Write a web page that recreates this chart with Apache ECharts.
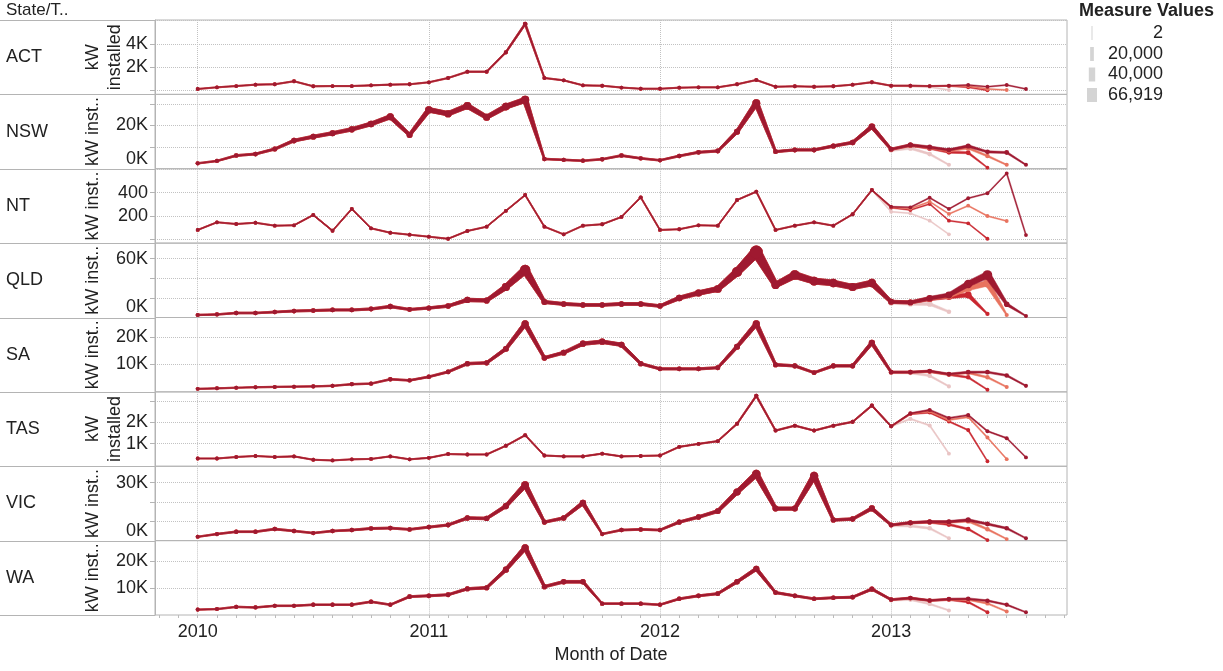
<!DOCTYPE html>
<html>
<head>
<meta charset="utf-8">
<script src="https://cdn.jsdelivr.net/npm/echarts@6/dist/echarts.min.js"></script>
<style>html,body{margin:0;padding:0;background:#fff}#chart{width:1223px;height:671px}</style>
</head>
<body>
<div id="chart"></div>
<script>
// ---------- data ----------
const states = ['ACT', 'NSW', 'NT', 'QLD', 'SA', 'TAS', 'VIC', 'WA'];
const axisTitles = ['kW\ninstalled', 'kW inst..', 'kW inst..', 'kW inst..', 'kW inst..', 'kW\ninstalled', 'kW inst..', 'kW inst..'];
const yearTicks = [0, 12, 24, 36];            // month index (0 = Jan 2010)
const yearLabels = ['2010', '2011', '2012', '2013'];

// monthly kW installed, Jan 2010 .. Dec 2012 (month index 0..35)
const actHistory = [140,280,390,510,540,800,370,390,390,450,510,540,710,1080,1620,1620,3290,5720,1080,880,450,420,260,160,160,250,280,280,540,910,330,370,330,370,510,720];
const nswHistory = [2500,3600,6100,6800,9100,13000,14800,16400,18200,20700,24000,15600,27200,25400,29000,23800,28700,31800,4500,4100,3700,4400,6100,4800,3900,5900,7600,8200,17100,30300,7900,8700,8700,10500,12100,19400];
const ntHistory  = [78,144,129,140,115,118,207,71,259,92,54,37,20,2,69,106,243,379,106,40,115,127,190,359,78,84,118,115,336,408,78,115,144,115,213,422];
const qldHistory = [2600,3100,4600,4600,5600,6600,7100,7700,7700,8700,11200,8200,9700,11700,17900,17400,31100,48500,15800,13800,12800,12800,13800,13800,11700,19900,25000,29100,46400,66919,33200,43400,37200,35200,31100,35200];
const saHistory  = [1100,1300,1500,1700,1800,1900,2000,2200,2800,3000,4600,4200,5500,7300,10300,10600,15700,24800,12400,14300,17600,18300,17200,10300,8400,8400,8400,8800,16500,24800,9900,9500,7000,9500,9500,17900];
const tasHistory = [300,300,370,420,370,400,240,210,260,280,400,260,330,510,490,490,900,1400,440,400,400,530,400,420,440,850,990,1120,1940,3260,1620,1850,1620,1850,2030,2800];
const vicHistory = [2000,3400,4600,4600,6000,5000,3900,5000,5500,6300,6500,5800,7000,8100,11700,11500,17900,28800,9600,11700,19500,3400,5500,5800,5500,9600,12200,15300,25200,34500,16600,16600,33500,10700,11200,16700];
const waHistory  = [2000,2200,3000,2800,3400,3400,3800,3800,3800,4900,3800,6800,7100,7500,9700,10100,16800,24900,10500,12300,12300,4200,4200,4200,3800,6000,7100,7900,12300,17100,8300,7100,6000,6400,6600,9600];

// 2013 values (from Jan 2013) as reported in successive snapshots, per state in order above
const tailsApr2013 = [
  [400,350,300,50], [8500,9500,6800,1800], [235,221,158,40], [15000,14000,13800,5900],
  [7000,6900,5900,2000], [1820,2170,1860,530], [7800,7600,6400,1200], [5500,5700,4100,1700]
];
const tailsJun2013 = [
  [420,420,380,400,280,20], [9000,10800,9500,7600,7400,500], [270,250,302,158,135,2], [16000,15400,19000,21200,23000,3600],
  [7200,7200,7400,6300,5300,800], [1820,2400,2470,2050,1640,170], [8100,9200,9600,8400,6000,300], [5700,6200,5300,5700,4800,1000]
];
const tailsJul2013 = [
  [420,420,390,410,390,140,50], [9000,10900,9800,8300,9600,5900,1800], [275,262,322,216,287,198,155], [16000,15400,19400,22000,30000,35000,2600],
  [7200,7200,7500,6400,7000,5300,1800], [1820,2420,2530,2120,2260,1290,270], [8100,9300,9700,9600,10200,5900,800], [5700,6300,5400,5800,5700,4300,1300]
];
const tailsAug2013 = [
  [420,420,390,420,480,330,480,140], [9000,11000,10000,8700,10500,7800,7500,1800], [278,273,356,259,351,394,566,34], [16000,15400,19600,23000,34200,43400,13500,1500],
  [7200,7200,7600,6500,7200,7200,6000,2200], [1820,2430,2590,2210,2350,1590,1260,350], [8100,9300,9800,9800,10700,8600,6400,1200], [5700,6300,5400,5900,6000,5300,3800,1000]
];
const snapshotNames = ['Apr 2013', 'Jun 2013', 'Jul 2013', 'Aug 2013'];
const sizeLegendValues = [2, 20000, 40000, 66919];

// axis tick positions / labels per panel
const yGridValues  = [[0,2000,4000,6000],[10000,20000,30000],[0,200,400,600],[20000,40000,60000],[10000,20000],[1000,2000,3000],[10000,20000,30000],[10000,20000]];
const yLabelValues = [[2000,4000],[0,20000],[200,400],[0,60000],[10000,20000],[1000,2000],[0,30000],[10000,20000]];
const yRanges = [[-324,6060],[0,34350],[-35.6,605.6],[0,75900],[0,27150],[-66,3446],[0,38540],[0,27550]];

// ---------- presentation ----------
const history = [actHistory, nswHistory, ntHistory, qldHistory, saHistory, tasHistory, vicHistory, waHistory];
const tails = [tailsApr2013, tailsJun2013, tailsJul2013, tailsAug2013];
const snapshotColors = ['#e9c4c4', '#c9262f', '#e8735f', '#9f1930'];
const FONT = 'Arial, "Liberation Sans", sans-serif';
const TXT = '#222';
const BORDER = '#b4b4b4';
const GRIDC = '#c2c2c2';
const plotLeft = 155, plotRight = 1067, plotTop = 20, plotBottom = 615;
const panelH = (plotBottom - plotTop) / states.length;
const xMin = -2.217, xMax = 45.13;
const monthTicks = Array.from({length: 48}, (_, i) => i - 2);

function sizeOf(v) { return 1 + 9 * Math.max(v, 0) / sizeLegendValues[3]; }

function renderItem(params, api) {
  const x0 = api.value(0), y0 = api.value(1);
  const p0 = api.coord([x0, y0]);
  const w0 = sizeOf(y0);
  const color = api.visual('color');
  const children = [];
  if (api.value(4) === 1) {
    const p1 = api.coord([api.value(2), api.value(3)]);
    const w1 = sizeOf(api.value(3));
    const dx = p1[0] - p0[0], dy = p1[1] - p0[1];
    const len = Math.hypot(dx, dy) || 1;
    const nx = -dy / len, ny = dx / len;
    children.push({
      type: 'polygon',
      shape: { points: [
        [p0[0] + nx * w0 / 2, p0[1] + ny * w0 / 2],
        [p1[0] + nx * w1 / 2, p1[1] + ny * w1 / 2],
        [p1[0] - nx * w1 / 2, p1[1] - ny * w1 / 2],
        [p0[0] - nx * w0 / 2, p0[1] - ny * w0 / 2]
      ]},
      style: { fill: color, stroke: color, lineWidth: 0.5 }
    });
  }
  children.push({ type: 'circle', shape: { cx: p0[0], cy: p0[1], r: (w0 + 2.8) / 2 }, style: { fill: color } });
  return { type: 'group', children };
}

function seriesPoints(k, s) {
  const vals = history[k].concat(tails[s][k]);
  return vals.map((v, i) => i < vals.length - 1 ? [i, v, i + 1, vals[i + 1], 1] : [i, v, i, v, 0]);
}

function tickText(k, v) {
  if (states[k] === 'NT') return String(v);
  const t = (v / 1000) + 'K';
  return v === 0 ? '{lift|' + t + '}' : t;
}

const grids = states.map((s, k) => ({
  left: plotLeft, width: plotRight - plotLeft, top: plotTop + k * panelH, height: panelH,
  show: true, borderColor: BORDER, borderWidth: 1, backgroundColor: 'transparent',
  containLabel: false, outerBoundsMode: 'none'
}));

const xAxes = states.map((s, k) => ({
  type: 'value', gridIndex: k, min: xMin, max: xMax,
  axisLine: { show: false, onZero: false },
  axisTick: { show: false, customValues: yearTicks },
  axisLabel: { show: k === states.length - 1, customValues: yearTicks,
    formatter: v => yearLabels[yearTicks.indexOf(v)], fontSize: 18, color: TXT, margin: 8, fontFamily: FONT },
  splitLine: { show: true, lineStyle: { color: GRIDC, type: 'dotted', width: 1 } },
  name: k === states.length - 1 ? 'Month of Date' : '',
  nameLocation: 'middle', nameGap: 31,
  nameTextStyle: { fontSize: 18, color: TXT, fontFamily: FONT }
}));
xAxes.push({
  type: 'value', gridIndex: states.length - 1, min: xMin, max: xMax, position: 'bottom',
  axisLine: { show: false, onZero: false },
  axisTick: { show: true, length: 3, customValues: monthTicks, lineStyle: { color: '#bbb' } },
  axisLabel: { show: false }, splitLine: { show: false }
});

const yAxes = states.map((s, k) => ({
  type: 'value', gridIndex: k, min: yRanges[k][0], max: yRanges[k][1],
  axisLine: { show: true, onZero: false, lineStyle: { color: BORDER } },
  axisTick: { show: true, inside: false, length: 5, customValues: yGridValues[k], lineStyle: { color: BORDER } },
  axisLabel: { customValues: yLabelValues[k], formatter: v => tickText(k, v),
    fontSize: 18, color: TXT, margin: 7, fontFamily: FONT,
    rich: { lift: { padding: [0, 0, 20, 0], fontSize: 18, color: TXT, fontFamily: FONT } } },
  splitLine: { show: true, lineStyle: { color: GRIDC, type: 'dotted', width: 1 } }
}));

const series = [];
states.forEach((st, k) => {
  tails.forEach((t, s) => {
    series.push({
      type: 'custom', name: st + ' ' + snapshotNames[s],
      xAxisIndex: k, yAxisIndex: k,
      dimensions: ['x0', 'y0', 'x1', 'y1', 'next'],
      encode: { x: 0, y: 1 },
      itemStyle: { color: snapshotColors[s] },
      renderItem, clip: false, silent: true,
      data: seriesPoints(k, s)
    });
  });
});

// graphic: headers, row labels, axis titles, separators, size legend
const graphic = [];
graphic.push({ type: 'text', x: 6, y: 10, style: { text: 'State/T..', fontSize: 17, fontFamily: FONT, fill: TXT, align: 'left', verticalAlign: 'middle' } });
for (let k = 0; k <= states.length; k++) {
  const y = Math.round(plotTop + k * panelH) + 0.5;
  graphic.push({ type: 'line', shape: { x1: 0, y1: y, x2: plotLeft, y2: y }, style: { stroke: BORDER, lineWidth: 1 } });
}
states.forEach((st, k) => {
  const cy = plotTop + (k + 0.5) * panelH;
  graphic.push({ type: 'text', x: 6, y: cy, style: { text: st, fontSize: 18, fontFamily: FONT, fill: TXT, align: 'left', verticalAlign: 'middle' } });
  const twoLine = axisTitles[k].indexOf('\n') >= 0;
  graphic.push({ type: 'text', x: twoLine ? 104 : 93, y: cy, rotation: Math.PI / 2,
    style: { text: axisTitles[k], fontSize: 18, lineHeight: 22, fontFamily: FONT, fill: TXT, align: 'center', verticalAlign: 'middle' } });
});
graphic.push({ type: 'text', x: 1079, y: 11, style: { text: 'Measure Values', fontSize: 18, fontWeight: 'bold', fontFamily: FONT, fill: TXT, align: 'left', verticalAlign: 'middle' } });
const legendY = [33, 54, 74.5, 95];
sizeLegendValues.forEach((v, i) => {
  const w = sizeOf(v);
  graphic.push({ type: 'rect', shape: { x: 1092 - w / 2, y: legendY[i] - 7, width: w, height: 14 }, style: { fill: '#d4d4d4' } });
  graphic.push({ type: 'text', x: 1163, y: legendY[i], style: { text: v.toLocaleString('en-US'), fontSize: 18, fontFamily: FONT, fill: TXT, align: 'right', verticalAlign: 'middle' } });
});

const chart = echarts.init(document.getElementById('chart'), null, { renderer: 'canvas' });
chart.setOption({
  animation: false,
  backgroundColor: '#fff',
  textStyle: { fontFamily: FONT },
  grid: grids, xAxis: xAxes, yAxis: yAxes, series, graphic
});
</script>
</body>
</html>
